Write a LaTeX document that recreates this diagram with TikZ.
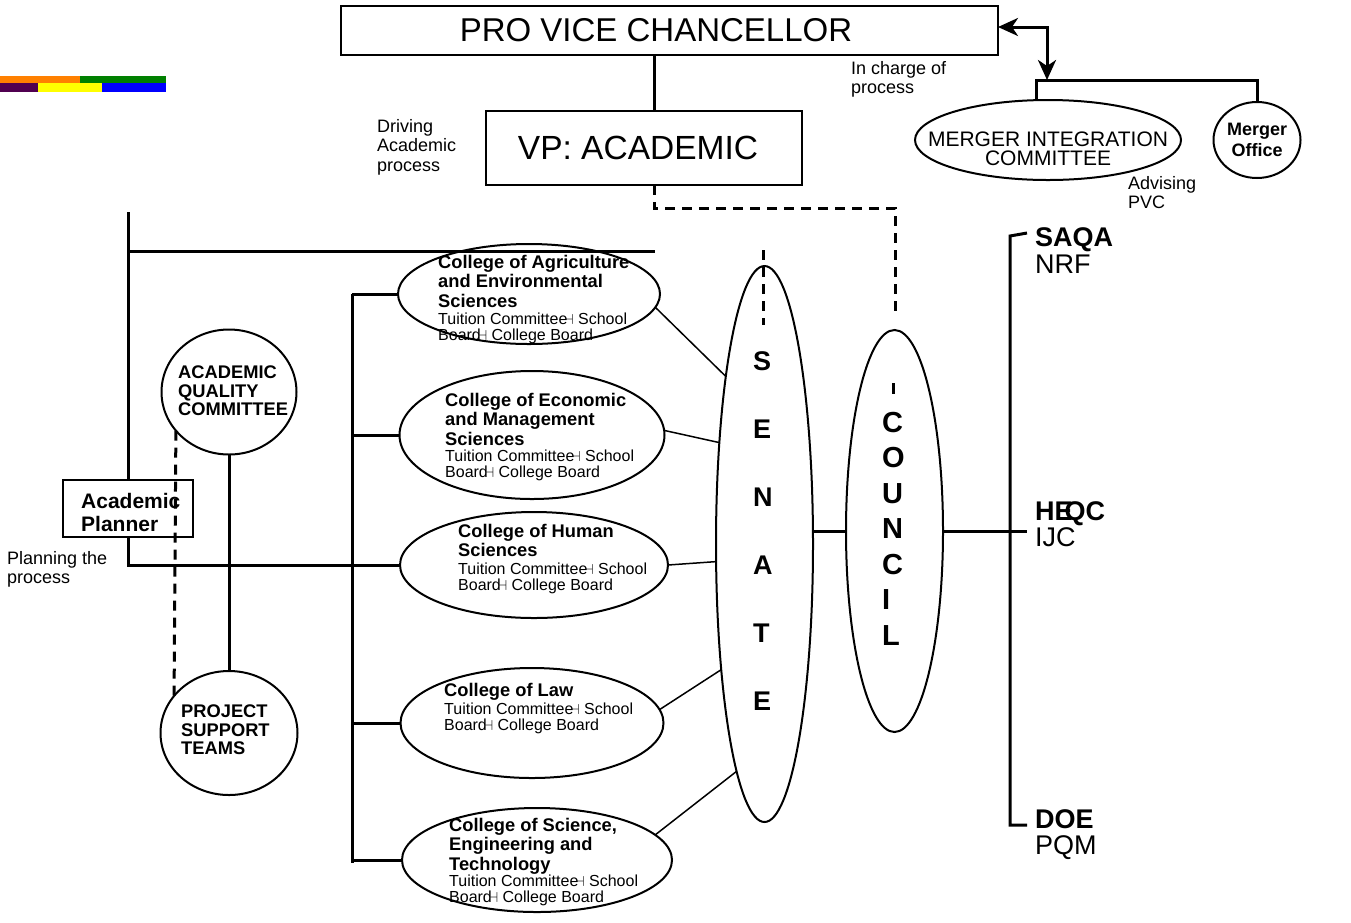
\documentclass[tikz,border=0pt]{standalone}
\usepackage{fontspec}
\setmainfont{Liberation Sans}
\usetikzlibrary{arrows.meta,shapes.geometric,positioning}

\definecolor{barorange}{RGB}{255,128,0}
\definecolor{bargreen}{RGB}{0,128,0}
\definecolor{barpurple}{RGB}{80,0,80}
\definecolor{baryellow}{RGB}{255,255,0}
\definecolor{barblue}{RGB}{0,0,255}

\newcommand{\sepmark}{\kern-2.5pt{\fontsize{14}{14}\selectfont$\dashv$}}

\begin{document}
\begin{tikzpicture}[
    x=1pt,y=-1pt,
    box/.style={draw,line width=2.2pt,inner sep=0pt,outer sep=0pt},
    body/.style={ellipse,draw,line width=2pt,inner sep=0pt,outer sep=0pt},
    link/.style={line width=3pt},
    thinlink/.style={line width=1.5pt},
    dashlink/.style={line width=3pt,dash pattern=on 10pt off 7pt},
    small/.style={font=\fontsize{18}{19.5}\selectfont,align=left,inner sep=0pt,anchor=north west},
    coltitle/.style={font=\bfseries\fontsize{18.3}{19.5}\selectfont,align=left,inner sep=0pt,anchor=north west},
    colsub/.style={font=\fontsize{16}{15.5}\selectfont,align=left,inner sep=0pt,anchor=north west},
    grouptxt/.style={font=\bfseries\fontsize{18.3}{18.5}\selectfont,align=left,inner sep=0pt,anchor=north west},
    bigletter/.style={font=\bfseries\fontsize{27}{68}\selectfont,align=left,inner sep=0pt,anchor=north west},
    agencybold/.style={font=\bfseries\fontsize{27}{27}\selectfont,inner sep=0pt,anchor=base west},
    agency/.style={font=\fontsize{27}{27}\selectfont,inner sep=0pt,anchor=base west}
]
\useasboundingbox (0,0) rectangle (1351,922);

% colour strip
\fill[barorange] (0,76) rectangle (80,83);
\fill[bargreen] (80,76) rectangle (166,83);
\fill[barpurple] (0,83) rectangle (38,92);
\fill[baryellow] (38,83) rectangle (102,92);
\fill[barblue] (102,83) rectangle (166,92);

% top
\node[box,minimum width=657pt,minimum height=49pt] (pvc) at (669.5,30.5) {};
\node[font=\fontsize{33}{33}\selectfont,inner sep=0pt] (pvctxt) at (656,30.5) {PRO VICE CHANCELLOR};
\node[box,minimum width=316pt,minimum height=74pt] (vp) at (644,148) {};
\node[font=\fontsize{33.5}{33.5}\selectfont,inner sep=0pt] (vptxt) at (638,148) {VP: ACADEMIC};
\coordinate (spine) at (654,0);
\draw[link] (spine |- pvc.south) -- (spine |- vp.north);
\node[small] (drivelbl) at (377,119) {Driving\\Academic\\process};
\node[small] (chargelbl) at (851,61) {In charge of\\process};

% merger bodies
\node[body,minimum width=266pt,minimum height=80pt] (mic) at (1048,140) {};
\node[font=\fontsize{21}{19}\selectfont,align=center,inner sep=0pt] (mictxt) at (1048,149) {MERGER INTEGRATION\\COMMITTEE};
\node[body,minimum width=87pt,minimum height=76pt] (office) at (1257,140) {};
\node[font=\bfseries\fontsize{18}{21}\selectfont,align=center,inner sep=0pt] (officetxt) at (1257,140) {Merger\\Office};
\node[small] (advlbl) at (1128,176) {Advising\\PVC};
\coordinate (arrowbend) at (1047,27);
\coordinate (mbarl) at (1036,80);
\coordinate (mbarr) at (1257,80);
\draw[link,{Stealth[length=20pt,width=18pt,inset=6pt]}-{Stealth[length=20pt,width=18pt,inset=6pt]}] (pvc.east |- arrowbend) -- (arrowbend) -- (arrowbend |- mbarl);
\draw[link] (mbarl |- mic.north) -- (mbarl) -- (mbarr) -- (office.north);

% senate and council
\node[body,minimum width=97pt,minimum height=556pt] (senate) at (764.5,544) {};
\node[body,minimum width=97pt,minimum height=402pt] (council) at (894.5,531) {};
\node[bigletter] (senatetxt) at (753,351) {S\\E\\N\\A\\T\\E};
\node[bigletter,font=\bfseries\fontsize{29}{35.5}\selectfont] (counciltxt) at (882,412) {C\\O\\U\\N\\C\\I\\L};
\coordinate (dashbend) at (895,208);
\coordinate (councildash) at (895,312);
\draw[dashlink] (spine |- vp.south) -- (spine |- dashbend) -- (dashbend) -- (councildash);
\coordinate (innerdashtop) at (893,383);
\coordinate (innerdashbot) at (893,394);
\draw[link] (innerdashtop) -- (innerdashbot);
\coordinate (senatedashtop) at (763,250);
\coordinate (senatedashbot) at (763,325);
\draw[dashlink] (senatedashtop) -- (senatedashbot);
\draw[link] (council.west) -- (council.west -| senate.east);

% outside agencies
\coordinate (saqatick) at (1027,233);
\coordinate (brtop) at (1010,236);
\coordinate (brbot) at (1010,825);
\coordinate (doetick) at (1027,825);
\coordinate (heqctick) at (1027,531);
\draw[link] (saqatick) -- (brtop) -- (brbot) -- (doetick);
\draw[link] (council.east) -- (heqctick);
\node[agencybold] (saqa) at (1035,246) {SAQA};
\node[agency] (nrf) at (1035,273) {NRF};
\node[agencybold] (heqc) at (1035,520) {HE\kern-8pt QC};
\node[agency] (ijc) at (1035,546) {IJC};
\node[agencybold] (doe) at (1035,828) {DOE};
\node[agency] (pqm) at (1035,854) {PQM};

% colleges
\node[body,minimum width=262pt,minimum height=100pt] (agri) at (529,294) {};
\node[body,minimum width=265pt,minimum height=128pt] (econ) at (532,435) {};
\node[body,minimum width=268pt,minimum height=106pt] (human) at (534,565) {};
\node[body,minimum width=263pt,minimum height=110pt] (law) at (532,723) {};
\node[body,minimum width=270pt,minimum height=104pt] (sci) at (537,860) {};

\node[coltitle] (agrit) at (438,255) {College of Agriculture\\and Environmental\\Sciences};
\node[colsub] (agris) at (438,313) {Tuition Committee\sepmark{} School\\Board\sepmark{} College Board};
\node[coltitle] (econt) at (445,393) {College of Economic\\and Management\\Sciences};
\node[colsub] (econs) at (445,450) {Tuition Committee\sepmark{} School\\Board\sepmark{} College Board};
\node[coltitle] (humant) at (458,524) {College of Human\\Sciences};
\node[colsub] (humans) at (458,563) {Tuition Committee\sepmark{} School\\Board\sepmark{} College Board};
\node[coltitle] (lawt) at (444,683) {College of Law};
\node[colsub] (laws) at (444,703) {Tuition Committee\sepmark{} School\\Board\sepmark{} College Board};
\node[coltitle] (scit) at (449,818) {College of Science,\\Engineering and\\Technology};
\node[colsub] (scis) at (449,875) {Tuition Committee\sepmark{} School\\Board\sepmark{} College Board};

\draw[thinlink] (agri.-6) -- (senate.103);
\draw[thinlink] (econ.2) -- (senate.114);
\draw[thinlink] (human.0) -- (senate.200);
\draw[thinlink] (law.6) -- (senate.251);
\draw[thinlink] (sci.12) -- (senate.263);

% planning side
\coordinate (plantop) at (128,212);
\coordinate (crossl) at (128,251);
\coordinate (crossr) at (655,251);
\node[box,minimum width=130pt,minimum height=57pt] (planner) at (128,508.5) {};
\node[grouptxt,font=\bfseries\fontsize{21}{23}\selectfont] (plannertxt) at (81,493) {Academic\\Planner};
\draw[link] (plantop) -- (planner.north);
\draw[link] (crossl) -- (crossr);
\draw[link] (planner.south) |- (human.west);
\node[small] (planlbl) at (7,551) {Planning the\\process};

\node[body,minimum width=135pt,minimum height=125pt] (aqc) at (229,392) {};
\node[grouptxt] (aqctxt) at (178,366) {ACADEMIC\\QUALITY\\COMMITTEE};
\node[body,minimum width=137pt,minimum height=124pt] (pst) at (229,733) {};
\node[grouptxt] (psttxt) at (181,705) {PROJECT\\SUPPORT\\TEAMS};
\draw[link] (aqc.south) -- (pst.north);
\draw[dashlink] (aqc.216) -- (pst.146);

\coordinate (colltop) at (352,294);
\coordinate (collbot) at (352,863);
\draw[link] (colltop) -- (collbot);
\foreach \c in {agri,econ,law,sci}
  \draw[link] (\c.west -| colltop) -- (\c.west);
\end{tikzpicture}
\end{document}
